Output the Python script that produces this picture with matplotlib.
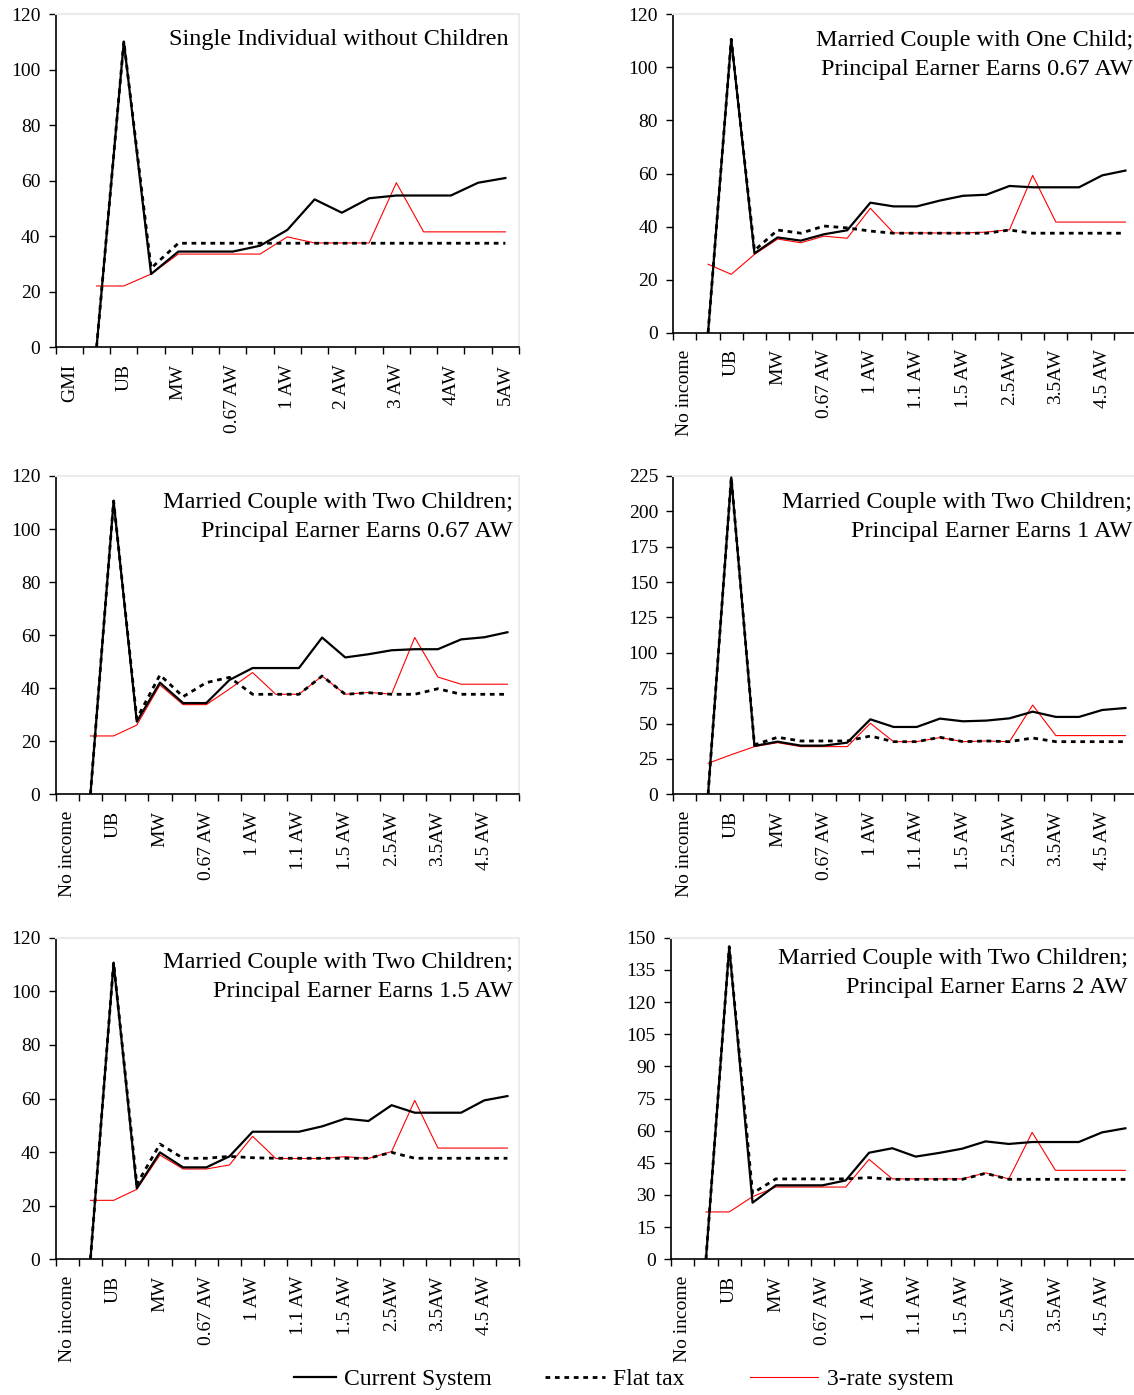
import numpy as np
import matplotlib
matplotlib.use("Agg")
import matplotlib.pyplot as plt
from matplotlib.lines import Line2D

plt.rcParams['font.family'] = ['Liberation Serif', 'DejaVu Serif']

NA = np.nan

# tick labels (Excel shows every other category)
labels_single = ["GMI", "UB", "MW", "0.67 AW", "1 AW", "2 AW", "3 AW", "4AW", "5AW"]
labels_couple = ["No income", "UB", "MW", "0.67 AW", "1 AW", "1.1 AW", "1.5 AW",
                 "2.5AW", "3.5AW", "4.5 AW"]

titles = [
    "Single Individual without Children",
    "Married Couple with One Child;\nPrincipal Earner Earns 0.67 AW",
    "Married Couple with Two Children;\nPrincipal Earner Earns 0.67 AW",
    "Married Couple with Two Children;\nPrincipal Earner Earns 1 AW",
    "Married Couple with Two Children;\nPrincipal Earner Earns 1.5 AW",
    "Married Couple with Two Children;\nPrincipal Earner Earns 2 AW",
]

series_names = ["Current System", "Flat tax", "3-rate system"]

# panel 1 - single individual (17 points)
current_1 = [NA, 0, 110.2, 26.4, 34.5, 34.5, 34.5, 36.6, 42.3, 53.3, 48.5, 53.7, 54.7, 54.7, 54.7, 59.3, 61.0]
flat_1 = [NA, 0, 110.2, 28.5, 37.5, 37.5, 37.5, 37.5, 37.5, 37.5, 37.5, 37.5, 37.5, 37.5, 37.5, 37.5, 37.5]
three_1 = [NA, 22.1, 22.1, 26.4, 33.6, 33.6, 33.6, 33.6, 39.8, 37.6, 37.6, 37.6, 59.3, 41.6, 41.6, 41.6, 41.6]

# panel 2 - couple, one child, 0.67 AW (20 points)
current_2 = [NA, 0, 110.6, 29.9, 35.9, 34.7, 37.1, 38.6, 49.0, 47.6, 47.6, 49.8, 51.6, 52.0, 55.3,
             54.8, 54.8, 54.8, 59.3, 61.1]
flat_2 = [NA, 0, 110.6, 31.0, 38.7, 37.5, 40.2, 39.5, 38.3, 37.5, 37.5, 37.5, 37.5, 37.5, 38.7,
          37.5, 37.5, 37.5, 37.5, 37.5]
three_2 = [NA, 25.8, 22.0, 29.5, 35.3, 33.9, 36.4, 35.6, 46.9, 37.6, 37.6, 37.6, 37.6, 37.9, 38.8,
           59.3, 41.7, 41.7, 41.7, 41.7]

# panel 3 - couple, two children, 0.67 AW
current_3 = [NA, 0, 110.6, 27.4, 42.1, 34.4, 34.4, 43.1, 47.6, 47.6, 47.6, 59.1, 51.6, 52.8, 54.3,
             54.7, 54.7, 58.4, 59.2, 61.1]
flat_3 = [NA, 0, 110.6, 28.5, 45.0, 36.8, 42.1, 44.1, 37.7, 37.7, 37.7, 44.6, 37.7, 38.3, 37.7,
          37.7, 39.8, 37.7, 37.7, 37.7]
three_3 = [NA, 22.0, 22.0, 26.1, 41.2, 33.8, 33.8, 39.7, 45.9, 37.7, 37.7, 44.6, 37.7, 38.4, 37.8,
           59.1, 44.2, 41.5, 41.5, 41.5]

# panel 4 - couple, two children, 1 AW
current_4 = [NA, 0, 224.0, 34.2, 37.2, 34.4, 34.4, 36.5, 53.0, 47.6, 47.6, 53.5, 51.6, 52.1, 53.7,
             58.4, 54.7, 54.7, 59.6, 61.0]
flat_4 = [NA, 0, 224.0, 35.0, 40.3, 37.7, 37.7, 37.7, 41.2, 37.2, 37.2, 40.3, 37.2, 37.7, 37.2,
          39.8, 37.2, 37.2, 37.2, 37.2]
three_4 = [NA, 21.9, 28.0, 33.7, 36.5, 33.7, 33.7, 33.7, 50.2, 37.2, 37.2, 40.1, 37.2, 37.7, 37.2,
           63.1, 41.5, 41.5, 41.5, 41.5]

# panel 5 - couple, two children, 1.5 AW
current_5 = [NA, 0, 110.7, 26.5, 39.9, 34.3, 34.3, 38.4, 47.6, 47.6, 47.6, 49.6, 52.5, 51.6, 57.5,
             54.7, 54.7, 54.7, 59.3, 60.9]
flat_5 = [NA, 0, 110.7, 28.0, 43.0, 37.7, 37.7, 38.4, 37.9, 37.7, 37.7, 37.7, 37.7, 37.7, 39.9,
          37.7, 37.7, 37.7, 37.7, 37.7]
three_5 = [NA, 22.0, 22.0, 26.1, 38.9, 33.7, 33.7, 35.2, 45.9, 37.6, 37.6, 37.6, 38.3, 37.6, 40.2,
           59.3, 41.5, 41.5, 41.5, 41.5]

# panel 6 - couple, two children, 2 AW
current_6 = [NA, 0, 145.8, 26.4, 34.5, 34.5, 34.5, 36.8, 49.7, 51.8, 47.9, 49.6, 51.6, 55.0, 53.8,
             54.7, 54.7, 54.7, 59.2, 61.1]
flat_6 = [NA, 0, 145.8, 30.8, 37.5, 37.5, 37.5, 37.5, 38.1, 37.3, 37.3, 37.3, 37.3, 40.1, 37.3,
          37.3, 37.3, 37.3, 37.3, 37.3]
three_6 = [NA, 22.1, 22.1, 29.2, 33.7, 33.7, 33.7, 33.7, 46.6, 37.5, 37.5, 37.5, 37.5, 40.3, 37.5,
           59.2, 41.5, 41.5, 41.5, 41.5]

W, H = 1134, 1395
fig = plt.figure(figsize=(W / 100, H / 100), dpi=100)

DOTS = (0, (1.7, 1.7))

# (left, right, top, bottom) in pixels, y-max, y-step, title anchor (x, y)
panels = [
    ((55.7, 519, 14.3, 347.3), 120, 20, (509, 40), labels_single, current_1, flat_1, three_1),
    ((673.3, 1137, 14.3, 332.7), 120, 20, (1133, 55), labels_couple, current_2, flat_2, three_2),
    ((55.7, 519, 476, 794.3), 120, 20, (513, 517), labels_couple, current_3, flat_3, three_3),
    ((673.3, 1137, 476, 794.3), 225, 25, (1132, 517), labels_couple, current_4, flat_4, three_4),
    ((55.7, 519, 937.7, 1259.3), 120, 20, (513, 977), labels_couple, current_5, flat_5, three_5),
    ((671, 1137, 937.7, 1259.3), 150, 15, (1128, 973), labels_couple, current_6, flat_6, three_6),
]

for k, (box, ymax, ystep, tpos, labs, cur, flat, three) in enumerate(panels):
    l, r, t, b = box
    ax = fig.add_axes([l / W, 1 - b / H, (r - l) / W, (b - t) / H])
    n = len(cur)
    x = np.arange(n)
    ax.plot(x, three, color='red', lw=0.8, zorder=2)
    ax.plot(x, flat, color='black', lw=2.0, linestyle=DOTS, dash_capstyle='butt', zorder=3)
    ax.plot(x, cur, color='black', lw=1.6, zorder=4)

    ax.set_xlim(-0.5, n - 0.5)
    ax.set_ylim(0, ymax)
    ax.set_yticks(np.arange(0, ymax + 1, ystep))
    ax.tick_params(axis='y', direction='out', length=5, width=1, labelsize=14, pad=6)

    # tick marks between categories, labels on every other category
    ax.set_xticks(np.arange(-0.5, n, 1))
    ax.set_xticklabels([])
    ax.tick_params(axis='x', which='major', direction='out', length=5, width=1)
    ax.set_xticks(np.arange(0, n, 2), minor=True)
    ax.set_xticklabels(labs, minor=True, rotation=90, fontsize=14, va='top', ha='center')
    ax.tick_params(axis='x', which='minor', length=0, pad=12)

    for s in ['left', 'bottom']:
        ax.spines[s].set_color('black')
        ax.spines[s].set_linewidth(1.2)
    for s in ['top', 'right']:
        ax.spines[s].set_color('#ebebeb')
        ax.spines[s].set_linewidth(1.5)

    fig.text(tpos[0] / W, 1 - tpos[1] / H, titles[k], ha='right', va='center',
             multialignment='right', fontsize=17.5, linespacing=1.55)

# legend entries, each placed like the original
handles = [
    Line2D([], [], color='black', lw=1.6),
    Line2D([], [], color='black', lw=2.0, linestyle=DOTS, dash_capstyle='butt'),
    Line2D([], [], color='red', lw=0.8),
]
leg_x = [294, 545, 750]
leg_len = [1.78, 2.55, 2.9]
for h, name, lx, hl in zip(handles, series_names, leg_x, leg_len):
    fig.legend([h], [name], loc='center left', bbox_to_anchor=(lx / W, 1 - 1379 / H),
               frameon=False, fontsize=17, handlelength=hl, handletextpad=0.35,
               borderpad=0, borderaxespad=0)

fig.savefig("out.png", dpi=100)
